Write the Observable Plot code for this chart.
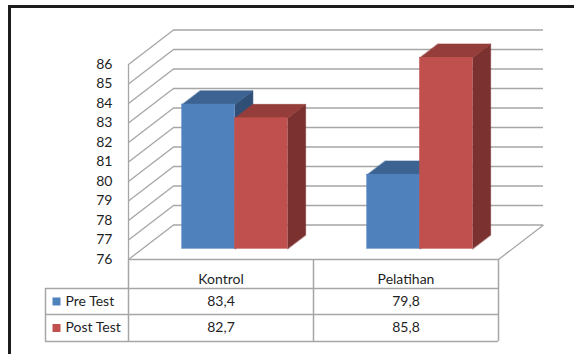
<!DOCTYPE html>
<html><head><meta charset="utf-8">
<script src="https://cdn.jsdelivr.net/npm/d3@7"></script>
<script src="https://cdn.jsdelivr.net/npm/@observablehq/plot@0.6"></script>
<style>
body{margin:0;background:#fff;overflow:hidden}
#wrap{position:relative;width:574px;height:354px;overflow:hidden;font-family:Lato,sans-serif;background:#fff}
#frame{position:absolute;left:8px;top:5px;width:700px;height:500px;border:3px solid #1c1c1c;box-sizing:border-box}
#chart,#table{position:absolute;left:0}
#chart{top:0}
#table{top:258px}
</style></head><body>
<div id="wrap"><div id="frame"></div><div id="chart"></div><div id="table"></div></div>
<script>
// ---- data ----
const categories = ["Kontrol", "Pelatihan"];
const seriesNames = ["Pre Test", "Post Test"];
const preTest = [83.4, 79.8];
const postTest = [82.7, 85.8];
const yTicks = [76, 77, 78, 79, 80, 81, 82, 83, 84, 85, 86];

// ---- styles ----
const frontColors = ["#4f81bd", "#c0504d"];
const topColors = ["#3c6391", "#943d3a"];
const sideColors = ["#304f76", "#7b312f"];
const gridColor = "#a6a6a6";
const textColor = "#1f1f1f";
const font = "Lato, 'Open Sans', sans-serif";

// ---- 3D projection (in scale units) ----
const DX = 45 / 185;     // depth shift in x units
const DY = 34.5 / 19.5;  // depth shift in y (value) units
const D0 = 0.31, D1 = 0.71, BW = 0.285, BASE = 76;
const P = (u, v, d) => ({x: u + d * DX, y: v + d * DY});

const seriesValues = [preTest, postTest];
const bars = [];
categories.forEach((c, i) => seriesValues.forEach((vals, j) => {
  const u0 = i + 0.5 - BW + j * BW;
  bars.push({cat: c, s: j, u0, u1: u0 + BW, v: vals[i]});
}));

function poly(b, kind) {
  const id = b.cat + b.s + kind;
  let pts;
  if (kind === "top") pts = [P(b.u0, b.v, D0), P(b.u1, b.v, D0), P(b.u1, b.v, D1), P(b.u0, b.v, D1)];
  else pts = [P(b.u1, BASE, D0), P(b.u1, b.v, D0), P(b.u1, b.v, D1), P(b.u1, BASE, D1)];
  return pts.map(p => ({...p, id}));
}

const barMarks = [];
seriesNames.forEach((name, j) => {
  const bs = bars.filter(b => b.s === j);
  barMarks.push(
    Plot.line(bs.flatMap(b => poly(b, "side")), {x: "x", y: "y", z: "id", fill: sideColors[j], stroke: sideColors[j], strokeWidth: 0.5, curve: "linear-closed"}),
    Plot.line(bs.flatMap(b => poly(b, "top")), {x: "x", y: "y", z: "id", fill: topColors[j], stroke: topColors[j], strokeWidth: 0.5, curve: "linear-closed"}),
    Plot.rect(bs, {x1: b => b.u0 + D0 * DX, x2: b => b.u1 + D0 * DX, y1: BASE + D0 * DY, y2: b => b.v + D0 * DY, fill: frontColors[j], stroke: frontColors[j], strokeWidth: 0.5})
  );
});

const chart = Plot.plot({
  width: 574, height: 354,
  marginLeft: 128, marginRight: 76, marginTop: 64, marginBottom: 95,
  x: {domain: [0, categories.length], axis: null},
  y: {domain: [76, 86]},
  style: {fontFamily: font, fontSize: "14px", color: textColor, background: "transparent", overflow: "visible"},
  marks: [
    Plot.link(yTicks, {x1: 0, y1: d => d, x2: DX, y2: d => d + DY, stroke: gridColor, strokeWidth: 1.3}),
    Plot.ruleY(yTicks, {y: d => d + DY, x1: DX, x2: categories.length + DX, stroke: gridColor, strokeWidth: 1.3}),
    Plot.ruleX([0], {y1: 76, y2: 86, stroke: gridColor, strokeWidth: 1.3}),
    Plot.link([0], {x1: categories.length, y1: BASE, x2: categories.length + DX, y2: BASE + DY, stroke: gridColor, strokeWidth: 1.3}),
    ...barMarks,
    Plot.axisY(yTicks, {tickSize: 0, tickPadding: 16, fontSize: 14, label: null, fill: textColor})
  ]
});
document.getElementById("chart").append(chart);

// ---- data table ----
const rowEdges = [0, 29, 55, 82];
const LX = -83 / 185;
const rows = seriesNames.map((name, j) => ({name, j, yc: (rowEdges[j + 1] + rowEdges[j + 2]) / 2}));
const cells = [];
rows.forEach(r => categories.forEach((c, i) => cells.push({x: i + 0.5, y: r.yc, label: seriesValues[r.j][i].toFixed(1).replace(".", ",")})));

const table = Plot.plot({
  width: 574, height: 84,
  marginLeft: 128, marginRight: 76, marginTop: 0, marginBottom: 0,
  x: {domain: [0, categories.length], axis: null},
  y: {domain: [0, 82], range: [1, 83], axis: null},
  style: {fontFamily: font, fontSize: "14px", color: textColor, background: "transparent", overflow: "visible"},
  marks: [
    Plot.ruleY([rowEdges[0]], {x1: 0, x2: categories.length, stroke: gridColor, strokeWidth: 1.5}),
    Plot.ruleY(rowEdges.slice(1), {x1: LX, x2: categories.length, stroke: gridColor, strokeWidth: 1.5}),
    Plot.ruleX(d3.range(categories.length + 1), {y1: rowEdges[0], y2: rowEdges[3], stroke: gridColor, strokeWidth: 1.5}),
    Plot.ruleX([LX], {y1: rowEdges[1], y2: rowEdges[3], stroke: gridColor, strokeWidth: 1.5}),
    Plot.text(categories, {x: (d, i) => i + 0.5, y: (rowEdges[0] + rowEdges[1]) / 2, dy: 5.5, text: d => d, fill: textColor}),
    Plot.text(cells, {x: "x", y: "y", text: "label", fill: textColor}),
    Plot.dot(rows, {x: LX, y: "yc", dx: 11, symbol: "square", r: 4.5, fill: (d) => frontColors[d.j], stroke: null}),
    Plot.text(rows, {x: LX, y: "yc", dx: 20, text: "name", textAnchor: "start", fill: textColor})
  ]
});
document.getElementById("table").append(table);
</script>
</body></html>
